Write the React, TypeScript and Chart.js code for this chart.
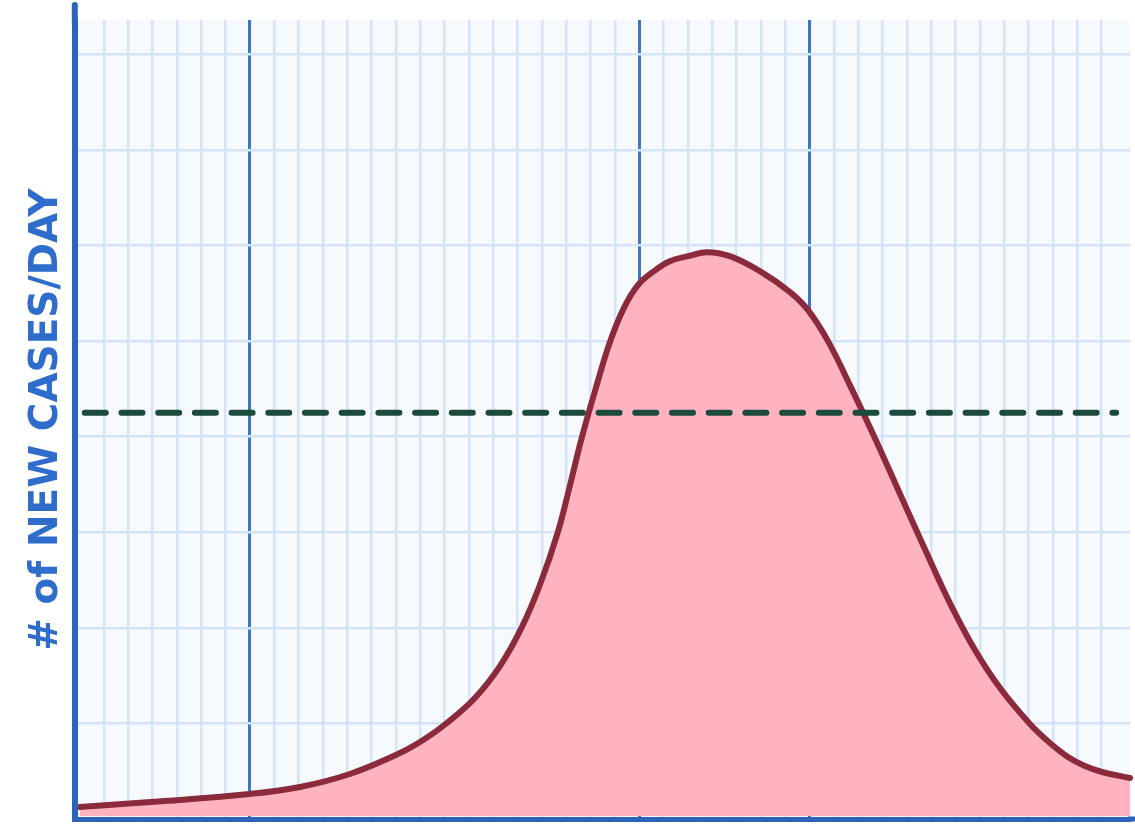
import { useEffect, useRef } from 'react';
import { Chart, registerables } from 'chart.js';

Chart.register(...registerables);

// ---- data (x in grid columns, y in grid rows) ----
const dayValues = [
  -0.99, 2.51, 6.0, 8.06, 10.11, 12.17, 13.19, 14.1, 15.25, 16.28, 17.18, 17.92, 18.66, 19.15,
  19.65, 20.22, 20.8, 21.37, 21.95, 22.61, 23.26, 24.09, 24.78, 25.73, 26.96, 28.2, 28.94, 29.76,
  30.66, 31.69, 32.72, 33.74, 34.77, 35.8, 36.83, 38.06, 38.88, 39.62, 40.32, 41.02, 42.17,
];
const newCasesPerDay = [
  0.126, 0.188, 0.262, 0.335, 0.471, 0.69, 0.837, 1.004, 1.266, 1.6, 2.008, 2.448, 3.002, 3.483,
  3.996, 4.508, 4.99, 5.345, 5.586, 5.732, 5.837, 5.894, 5.931, 5.889, 5.732, 5.513, 5.324, 5.0,
  4.54, 3.985, 3.4, 2.824, 2.259, 1.768, 1.37, 0.994, 0.795, 0.649, 0.554, 0.492, 0.429,
];
const capacityLevel = [4.25, 4.25];
const capacityDays = [-0.78, 41.6];
const phaseLineDays = [6, 22, 29];
const yAxisTitle = '# of NEW CASES/DAY';

const X_MIN = -1.19;
const X_MAX = 42.17;
const LAST_GRID_DAY = 41;
const Y_MIN = 0;
const Y_MAX = 8.36;

const PAPER = '#f6faff';
const GRID_LIGHT = '#d3e3f8';
const GRID_DARK = '#3f75c6';
const AXIS = '#2d63b9';
const TITLE = '#2e6dcc';
const CURVE = '#8a2a3a';
const FILL = '#ffb3c1';
const DASH = '#1c4a3c';

const paperPlugin = {
  id: 'paper',
  beforeDraw(chart: any) {
    const { ctx, chartArea: a } = chart;
    ctx.save();
    ctx.fillStyle = PAPER;
    ctx.fillRect(a.left, a.top, a.right - a.left, a.bottom - a.top);
    ctx.restore();
  },
  afterDraw(chart: any) {
    const { ctx, chartArea: a, width } = chart;
    ctx.save();
    ctx.strokeStyle = AXIS;
    ctx.lineCap = 'round';
    ctx.lineWidth = 6;
    ctx.beginPath();
    ctx.moveTo(a.left, a.top + 3);
    ctx.lineTo(a.left, a.top - 15);
    ctx.stroke();
    ctx.lineCap = 'butt';
    ctx.lineWidth = 5;
    ctx.beginPath();
    ctx.moveTo(a.right - 2, a.bottom);
    ctx.lineTo(width, a.bottom);
    ctx.stroke();
    ctx.restore();
  },
};

export default function App() {
  const ref = useRef<HTMLCanvasElement | null>(null);

  useEffect(() => {
    if (!ref.current) return;
    const curve = dayValues.map((d, i) => ({ x: d, y: newCasesPerDay[i] }));
    const capacity = capacityDays.map((d, i) => ({ x: d, y: capacityLevel[i] }));

    const chart = new Chart(ref.current, {
      type: 'line',
      data: {
        datasets: [
          {
            data: capacity,
            borderColor: DASH,
            borderWidth: 6,
            borderDash: [21, 15.7],
            borderCapStyle: 'round',
            pointRadius: 0,
            fill: false,
            tension: 0,
          },
          {
            data: curve,
            borderColor: CURVE,
            borderWidth: 6,
            borderCapStyle: 'round',
            borderJoinStyle: 'round',
            backgroundColor: FILL,
            fill: 'start',
            pointRadius: 0,
            cubicInterpolationMode: 'default',
            tension: 0.4,
            clip: { left: -3, top: 0, right: 3, bottom: -3 } as any,
          },
        ],
      },
      options: {
        responsive: false,
        maintainAspectRatio: false,
        animation: false,
        devicePixelRatio: 1,
        layout: { padding: { left: 23, top: 20, right: 5, bottom: 6 } },
        plugins: {
          legend: { display: false },
          tooltip: { enabled: false },
          title: { display: false },
        },
        events: [],
        scales: {
          x: {
            type: 'linear',
            min: X_MIN,
            max: X_MAX,
            ticks: { display: false, stepSize: 1 },
            border: { display: true, color: AXIS, width: 5 },
            grid: {
              drawTicks: false,
              color: (c: any) => {
                const v = c.tick?.value;
                if (!Number.isInteger(v) || v < 0 || v > LAST_GRID_DAY) return 'rgba(0,0,0,0)';
                return phaseLineDays.includes(v) ? GRID_DARK : GRID_LIGHT;
              },
              lineWidth: (c: any) => (phaseLineDays.includes(c.tick?.value) ? 3 : 2.5),
            },
          },
          y: {
            type: 'linear',
            min: Y_MIN,
            max: Y_MAX,
            ticks: { display: false, stepSize: 1 },
            border: { display: true, color: AXIS, width: 6 },
            grid: {
              drawTicks: false,
              color: (c: any) => {
                const v = c.tick?.value;
                if (!Number.isInteger(v) || v <= 0) return 'rgba(0,0,0,0)';
                return GRID_LIGHT;
              },
              lineWidth: 2.5,
            },
            title: {
              display: true,
              text: yAxisTitle,
              color: TITLE,
              font: { family: '"DejaVu Sans", sans-serif', size: 39, weight: 'bold', lineHeight: 1.2 },
              padding: { top: 0, bottom: 5 },
            },
          },
        },
      },
      plugins: [paperPlugin],
    });
    return () => chart.destroy();
  }, []);

  return (
    <div style={{ position: 'fixed', left: 0, top: 0, width: 1135, height: 825, background: '#ffffff' }}>
      <canvas ref={ref} width={1135} height={825} style={{ display: 'block' }} />
    </div>
  );
}
